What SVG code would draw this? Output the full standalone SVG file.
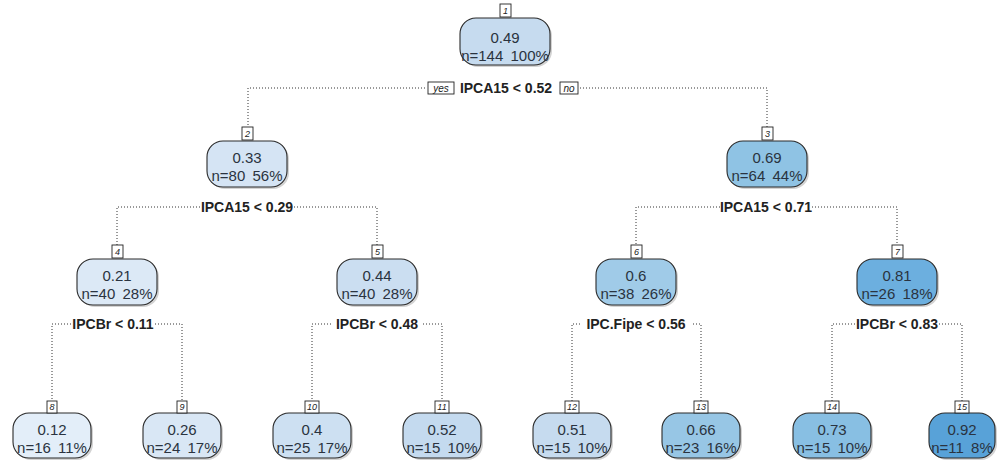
<svg xmlns="http://www.w3.org/2000/svg" width="998" height="462" viewBox="0 0 998 462">
<style>
.bg{fill:#ffffff}
.sh{fill:#a8a8a8;opacity:0.5}
.bx{stroke:#2a2a2a;stroke-width:1.1}
.t{font-family:"Liberation Sans",Arial,sans-serif;font-size:15px;fill:#2a3340;text-anchor:middle}
.lb{fill:#ffffff;stroke:#222;stroke-width:0.9}
.lt{font-family:"Liberation Sans",Arial,sans-serif;font-size:9px;font-style:italic;fill:#222;text-anchor:middle}
.sp{font-family:"Liberation Sans",Arial,sans-serif;font-size:14px;font-weight:bold;fill:#222;text-anchor:middle}
.yn{font-family:"Liberation Sans",Arial,sans-serif;font-size:10px;font-style:italic;fill:#222;text-anchor:middle}
.dl{fill:none;stroke:#333;stroke-width:1;stroke-dasharray:1 2}
</style>
<rect class="bg" x="0" y="0" width="998" height="462"/>
<g id="connectors">
<path class="dl" d="M425 88H248V127M580 88H767V127"/>
<path class="dl" d="M200 207H117V246M294 207H377V246"/>
<path class="dl" d="M720 207H636V246M812 207H897V246"/>
<path class="dl" d="M71 324H52V402M155 324H182V402"/>
<path class="dl" d="M331 324H312V402M423 324H442V402"/>
<path class="dl" d="M580 324H572V402M693 324H701V402"/>
<path class="dl" d="M855 324H832V402M939 324H962V402"/>
<g id="yes"><rect class="lb" x="428" y="82" width="26" height="12"/><text class="yn" x="441" y="91.5">yes</text></g>
<g id="no"><rect class="lb" x="560" y="82" width="18" height="12"/><text class="yn" x="569" y="91.5">no</text></g>
<text class="sp" x="506" y="93">IPCA15 &lt; 0.52</text>
<text class="sp" x="247" y="212">IPCA15 &lt; 0.29</text>
<text class="sp" x="766" y="212">IPCA15 &lt; 0.71</text>
<text class="sp" x="113" y="329">IPCBr &lt; 0.11</text>
<text class="sp" x="377" y="329">IPCBr &lt; 0.48</text>
<text class="sp" x="636" y="329">IPC.Fipe &lt; 0.56</text>
<text class="sp" x="897" y="329">IPCBr &lt; 0.83</text>
</g>
<g id="node1">
<rect class="sh" x="462" y="20" width="90" height="47" rx="16"/>
<rect class="bx" x="460" y="18" width="90" height="47" rx="16" fill="#c6dbef"/>
<text class="t" x="505" y="43">0.49</text><text class="t" x="505" y="61">n=144<tspan dx="3"> 100%</tspan></text>
<rect class="lb" x="500" y="4" width="11" height="13"/><text class="lt" x="505.5" y="13.5">1</text>
</g>
<g id="node2">
<rect class="sh" x="209" y="143" width="80" height="46" rx="16"/>
<rect class="bx" x="207" y="141" width="80" height="46" rx="16" fill="#d5e4f4"/>
<text class="t" x="247" y="163">0.33</text><text class="t" x="247" y="181">n=80<tspan dx="3"> 56%</tspan></text>
<rect class="lb" x="242" y="127" width="11" height="13"/><text class="lt" x="247.5" y="136.5">2</text>
</g>
<g id="node3">
<rect class="sh" x="729" y="143" width="80" height="46" rx="16"/>
<rect class="bx" x="727" y="141" width="80" height="46" rx="16" fill="#8fc3e4"/>
<text class="t" x="767" y="163">0.69</text><text class="t" x="767" y="181">n=64<tspan dx="3"> 44%</tspan></text>
<rect class="lb" x="762" y="127" width="11" height="13"/><text class="lt" x="767.5" y="136.5">3</text>
</g>
<g id="node4">
<rect class="sh" x="79" y="261" width="80" height="46" rx="16"/>
<rect class="bx" x="77" y="259" width="80" height="46" rx="16" fill="#dce9f6"/>
<text class="t" x="117" y="281">0.21</text><text class="t" x="117" y="299">n=40<tspan dx="3"> 28%</tspan></text>
<rect class="lb" x="112" y="245" width="11" height="13"/><text class="lt" x="117.5" y="254.5">4</text>
</g>
<g id="node5">
<rect class="sh" x="339" y="261" width="80" height="46" rx="16"/>
<rect class="bx" x="337" y="259" width="80" height="46" rx="16" fill="#cbdef1"/>
<text class="t" x="377" y="281">0.44</text><text class="t" x="377" y="299">n=40<tspan dx="3"> 28%</tspan></text>
<rect class="lb" x="372" y="245" width="11" height="13"/><text class="lt" x="377.5" y="254.5">5</text>
</g>
<g id="node6">
<rect class="sh" x="598" y="261" width="80" height="46" rx="16"/>
<rect class="bx" x="596" y="259" width="80" height="46" rx="16" fill="#a0cbe8"/>
<text class="t" x="636" y="281">0.6</text><text class="t" x="636" y="299">n=38<tspan dx="3"> 26%</tspan></text>
<rect class="lb" x="631" y="245" width="11" height="13"/><text class="lt" x="636.5" y="254.5">6</text>
</g>
<g id="node7">
<rect class="sh" x="859" y="261" width="80" height="46" rx="16"/>
<rect class="bx" x="857" y="259" width="80" height="46" rx="16" fill="#6cafdf"/>
<text class="t" x="897" y="281">0.81</text><text class="t" x="897" y="299">n=26<tspan dx="3"> 18%</tspan></text>
<rect class="lb" x="892" y="245" width="11" height="13"/><text class="lt" x="897.5" y="254.5">7</text>
</g>
<g id="node8">
<rect class="sh" x="15" y="415" width="78" height="45" rx="16"/>
<rect class="bx" x="13" y="413" width="78" height="45" rx="16" fill="#e3eef9"/>
<text class="t" x="52" y="435">0.12</text><text class="t" x="52" y="453">n=16<tspan dx="3"> 11%</tspan></text>
<rect class="lb" x="47" y="401" width="10" height="12"/><text class="lt" x="52" y="410">8</text>
</g>
<g id="node9">
<rect class="sh" x="145" y="415" width="78" height="45" rx="16"/>
<rect class="bx" x="143" y="413" width="78" height="45" rx="16" fill="#d9e7f5"/>
<text class="t" x="182" y="435">0.26</text><text class="t" x="182" y="453">n=24<tspan dx="3"> 17%</tspan></text>
<rect class="lb" x="177" y="401" width="10" height="12"/><text class="lt" x="182" y="410">9</text>
</g>
<g id="node10">
<rect class="sh" x="275" y="415" width="78" height="45" rx="16"/>
<rect class="bx" x="273" y="413" width="78" height="45" rx="16" fill="#cde0f2"/>
<text class="t" x="312" y="435">0.4</text><text class="t" x="312" y="453">n=25<tspan dx="3"> 17%</tspan></text>
<rect class="lb" x="305" y="401" width="14" height="12"/><text class="lt" x="312" y="410">10</text>
</g>
<g id="node11">
<rect class="sh" x="405" y="415" width="78" height="45" rx="16"/>
<rect class="bx" x="403" y="413" width="78" height="45" rx="16" fill="#c4daef"/>
<text class="t" x="442" y="435">0.52</text><text class="t" x="442" y="453">n=15<tspan dx="3"> 10%</tspan></text>
<rect class="lb" x="435" y="401" width="14" height="12"/><text class="lt" x="442" y="410">11</text>
</g>
<g id="node12">
<rect class="sh" x="535" y="415" width="78" height="45" rx="16"/>
<rect class="bx" x="533" y="413" width="78" height="45" rx="16" fill="#c6dbef"/>
<text class="t" x="572" y="435">0.51</text><text class="t" x="572" y="453">n=15<tspan dx="3"> 10%</tspan></text>
<rect class="lb" x="565" y="401" width="14" height="12"/><text class="lt" x="572" y="410">12</text>
</g>
<g id="node13">
<rect class="sh" x="664" y="415" width="78" height="45" rx="16"/>
<rect class="bx" x="662" y="413" width="78" height="45" rx="16" fill="#97c6e5"/>
<text class="t" x="701" y="435">0.66</text><text class="t" x="701" y="453">n=23<tspan dx="3"> 16%</tspan></text>
<rect class="lb" x="694" y="401" width="14" height="12"/><text class="lt" x="701" y="410">13</text>
</g>
<g id="node14">
<rect class="sh" x="795" y="415" width="78" height="45" rx="16"/>
<rect class="bx" x="793" y="413" width="78" height="45" rx="16" fill="#88bfe3"/>
<text class="t" x="832" y="435">0.73</text><text class="t" x="832" y="453">n=15<tspan dx="3"> 10%</tspan></text>
<rect class="lb" x="825" y="401" width="14" height="12"/><text class="lt" x="832" y="410">14</text>
</g>
<g id="node15">
<rect class="sh" x="931" y="415" width="66" height="45" rx="16"/>
<rect class="bx" x="929" y="413" width="66" height="45" rx="16" fill="#58a2d8"/>
<text class="t" x="962" y="435">0.92</text><text class="t" x="962" y="453">n=11<tspan dx="3"> 8%</tspan></text>
<rect class="lb" x="955" y="401" width="14" height="12"/><text class="lt" x="962" y="410">15</text>
</g>
</svg>
